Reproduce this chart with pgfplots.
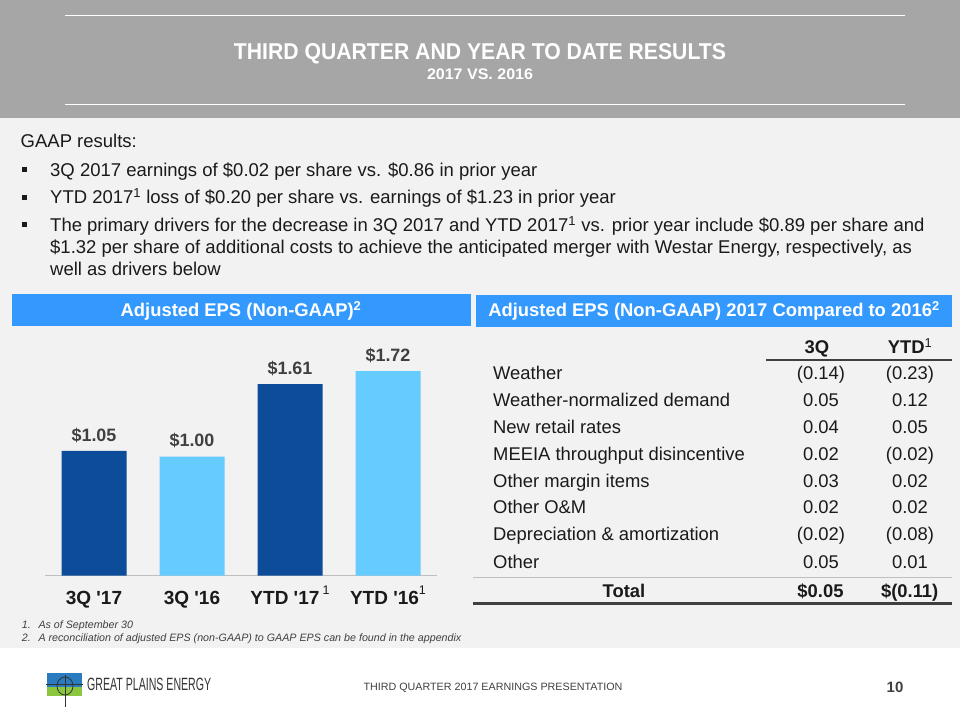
\documentclass[border=0pt]{standalone}
\usepackage{fontspec}
\usepackage{graphicx}
\usepackage{pgfplots}
\pgfplotsset{compat=1.18}
\newfontfamily\arial{Liberation Sans}
\definecolor{hdr}{HTML}{A6A6A6}
\definecolor{bodybg}{HTML}{F2F2F2}
\definecolor{boxblue}{HTML}{3399FF}
\definecolor{darkbar}{HTML}{0D4C99}
\definecolor{lightbar}{HTML}{66CCFF}
\definecolor{txt}{HTML}{1A1A1A}
\definecolor{dgrey}{HTML}{404040}
\definecolor{lgrey}{HTML}{BFBFBF}
\definecolor{logoblue}{HTML}{2B7BC0}
\definecolor{logogreen}{HTML}{8CC63F}
\newcommand\fs[1]{\fontsize{#1}{#1}\selectfont}
\newcommand\supone{\raisebox{10pt}{\fs{12.5}\mdseries 1}}
\begin{document}
\arial
\begin{tikzpicture}[x=1pt,y=1pt]
\useasboundingbox (0,0) rectangle (960,720);
\fill[white] (0,0) rectangle (960,720);
% header
\fill[hdr] (0,602) rectangle (960,720);
\draw[white,line width=1.3pt] (65,704.3) -- (904.5,704.3);
\draw[white,line width=1.3pt] (65,615.7) -- (904.5,615.7);
\node[anchor=base,inner sep=0pt,text=white] at (480,660.7) {\resizebox{492pt}{16pt}{\bfseries THIRD QUARTER AND YEAR TO DATE RESULTS}};
\node[anchor=base,inner sep=0pt,text=white] at (480,640.7) {\resizebox{106pt}{10.7pt}{\bfseries 2017 VS. 2016}};
% body
\fill[bodybg] (0,72) rectangle (960,602);
\begin{scope}[every node/.style={anchor=base west,inner sep=0pt,text=txt,font=\fs{18.5}}]
\node at (20.5,572.3) {GAAP results:};
\node at (50,543.3) {3Q 2017 earnings of \$0.02 per share vs. \$0.86 in prior year};
\node at (50,516) {YTD 2017\textsuperscript{1} loss of \$0.20 per share vs. earnings of \$1.23 in prior year};
\node at (50,488.3) {The primary drivers for the decrease in 3Q 2017 and YTD 2017\textsuperscript{1} vs. prior year include \$0.89 per share and};
\node at (50,466) {\$1.32 per share of additional costs to achieve the anticipated merger with Westar Energy, respectively, as};
\node at (50,444) {well as drivers below};
\end{scope}
\fill[txt] (22,547.5) rectangle (27,552.5);
\fill[txt] (22,520.2) rectangle (27,525.2);
\fill[txt] (22,492.5) rectangle (27,497.5);
% blue boxes
\fill[boxblue] (12.3,394.3) rectangle (470.5,426);
\fill[boxblue] (475.7,393.3) rectangle (952.3,425);
\node[anchor=base,inner sep=0pt,text=white,font=\fs{18.4}\bfseries] at (241,403.3) {Adjusted EPS (Non-GAAP)\textsuperscript{2}};
\node[anchor=base,inner sep=0pt,text=white,font=\fs{18.4}\bfseries] at (714,403) {Adjusted EPS (Non-GAAP) 2017 Compared to 2016\textsuperscript{2}};
% bar chart
\begin{axis}[at={(45pt,144.3pt)}, anchor=south west,
  scale only axis, width=392pt, height=238pt,
  xmin=-0.5, xmax=3.5, ymin=0, ymax=2,
  hide y axis, axis x line*=bottom,
  x axis line style={draw=lgrey,line width=1.5pt},
  xtick={0,1,2,3},
  xticklabels={3Q '17,3Q '16,YTD '17\,\supone,YTD '16\supone},
  major tick length=0pt,
  xticklabel style={font=\fs{19}\bfseries, text=txt, anchor=base, yshift=-28.6pt, inner sep=0pt},
  ybar, bar width=65pt, bar shift=0pt,
  nodes near coords={\$\pgfmathprintnumber[fixed,fixed zerofill,precision=2]{\pgfplotspointmeta}},
  nodes near coords style={font=\fs{17.9}\bfseries, text=dgrey, anchor=base, yshift=9.7pt, inner sep=0pt},
  /pgf/number format/assume math mode=true,
  clip=false]
\addplot[fill=darkbar, draw=none, bar shift=0pt] coordinates {(0,1.05) (2,1.61)};
\addplot[fill=lightbar, draw=none, bar shift=0pt] coordinates {(1,1.00) (3,1.72)};
\end{axis}
% footnotes
\begin{scope}[every node/.style={anchor=base west,inner sep=0pt,text=dgrey,font=\fs{10.7}\itshape}]
\node at (21.7,91.7) {1.};
\node at (38.3,91.7) {As of September 30};
\node at (21.7,78.3) {2.};
\node at (38.3,78.3) {A reconciliation of adjusted EPS (non-GAAP) to GAAP EPS can be found in the appendix};
\end{scope}
% table
\begin{scope}[every node/.style={inner sep=0pt,text=txt,font=\fs{18.4}}]
\node[anchor=base,font=\fs{18.4}\bfseries] at (817,366.7) {3Q};
\node[anchor=base,font=\fs{18.4}\bfseries] at (910,366.7) {YTD\textsuperscript{\mdseries 1}};
\node[anchor=base west] at (493,340) {Weather};
\node[anchor=base west] at (493,313.3) {Weather-normalized demand};
\node[anchor=base west] at (493,286.7) {New retail rates};
\node[anchor=base west] at (493,259.3) {MEEIA throughput disincentive};
\node[anchor=base west] at (493,232.7) {Other margin items};
\node[anchor=base west] at (493,206) {Other O\&M};
\node[anchor=base west] at (493,179.3) {Depreciation \& amortization};
\node[anchor=base west] at (493,151) {Other};
\node[anchor=base] at (821,340) {(0.14)};
\node[anchor=base] at (821,313.3) {0.05};
\node[anchor=base] at (821,286.7) {0.04};
\node[anchor=base] at (821,259.3) {0.02};
\node[anchor=base] at (821,232.7) {0.03};
\node[anchor=base] at (821,206) {0.02};
\node[anchor=base] at (821,179.3) {(0.02)};
\node[anchor=base] at (821,151) {0.05};
\node[anchor=base] at (910,340) {(0.23)};
\node[anchor=base] at (910,313.3) {0.12};
\node[anchor=base] at (910,286.7) {0.05};
\node[anchor=base] at (910,259.3) {(0.02)};
\node[anchor=base] at (910,232.7) {0.02};
\node[anchor=base] at (910,206) {0.02};
\node[anchor=base] at (910,179.3) {(0.08)};
\node[anchor=base] at (910,151) {0.01};
\node[anchor=base,font=\fs{18.4}\bfseries] at (624,122.7) {Total};
\node[anchor=base,font=\fs{18.4}\bfseries] at (820.5,122.7) {\$0.05};
\node[anchor=base,font=\fs{18.4}\bfseries] at (909.7,122.7) {\$(0.11)};
\end{scope}
\draw[dgrey,line width=1.5pt] (766,360) -- (952,360);
\draw[lgrey,line width=1pt] (473.3,142.7) -- (952,142.7);
\draw[dgrey,line width=2.5pt] (473.3,116.7) -- (952,116.7);
% footer
\fill[logoblue] (47,33) rectangle (82,47);
\fill[logogreen] (47,24) rectangle (82,33);
\draw[black!80,line width=0.8pt] (65,34) ellipse (8 and 9);
\draw[black!80,line width=0.8pt] (46,36) -- (83,36);
\draw[black!80,line width=0.8pt] (65,45) -- (65,13.3);
\node[anchor=base west,inner sep=0pt,text=black!80] at (87,29.3) {\resizebox{124pt}{12.4pt}{GREAT PLAINS ENERGY}};
\node[anchor=base,inner sep=0pt,text=dgrey] at (493,29.3) {\resizebox{259pt}{7.4pt}{THIRD QUARTER 2017 EARNINGS PRESENTATION}};
\node[anchor=base,inner sep=0pt,text=dgrey,font=\fs{15}\bfseries] at (895,27.7) {10};
\end{tikzpicture}
\end{document}
